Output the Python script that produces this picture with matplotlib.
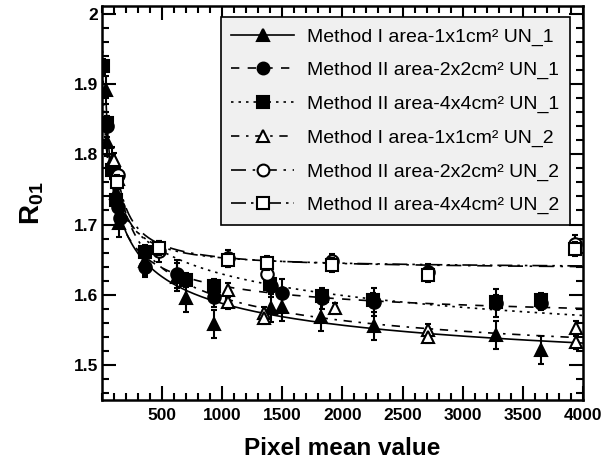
import numpy as np
import matplotlib
matplotlib.use('Agg')
import matplotlib.pyplot as plt
from matplotlib.ticker import MultipleLocator, FuncFormatter

plt.rcParams['font.family'] = ['Liberation Sans', 'DejaVu Sans']
plt.rcParams['mathtext.fontset'] = 'custom'
plt.rcParams['mathtext.rm'] = 'Liberation Sans:bold'
plt.rcParams['mathtext.it'] = 'Liberation Sans:bold'
plt.rcParams['mathtext.bf'] = 'Liberation Sans:bold'
plt.rcParams['mathtext.default'] = 'bf'

# Method I, 1x1 cm^2, UN_1
x1 = [30, 45, 85, 115, 140, 360, 620, 700, 930, 1410, 1495, 1825, 2260, 3275, 3650]
y1 = [1.892, 1.818, 1.790, 1.745, 1.702, 1.648, 1.625, 1.595, 1.559, 1.581, 1.583, 1.569, 1.555, 1.543, 1.521]
e1 = [0.02, 0.02, 0.02, 0.02, 0.02, 0.02, 0.02, 0.02, 0.02, 0.02, 0.02, 0.02, 0.02, 0.02, 0.02]

# Method II, 2x2 cm^2, UN_1
x2 = [40, 80, 130, 150, 355, 620, 930, 1410, 1495, 1830, 2260, 3275, 3650]
y2 = [1.840, 1.780, 1.725, 1.710, 1.640, 1.630, 1.597, 1.612, 1.602, 1.595, 1.590, 1.588, 1.588]
e2 = [0.015, 0.015, 0.015, 0.015, 0.015, 0.02, 0.015, 0.015, 0.02, 0.015, 0.02, 0.02, 0.01]

# Method II, 4x4 cm^2, UN_1
x3 = [5, 45, 80, 115, 355, 700, 930, 1400, 1830, 2255, 3275, 3650]
y3 = [1.925, 1.844, 1.778, 1.735, 1.661, 1.621, 1.612, 1.615, 1.598, 1.593, 1.590, 1.592]
e3 = [0.01, 0.01, 0.01, 0.01, 0.01, 0.01, 0.01, 0.01, 0.01, 0.01, 0.01, 0.01]

# Method I, 1x1 cm^2, UN_2
x4 = [100, 130, 1050, 1050, 1345, 1345, 1935, 2715, 2715, 3940, 3940]
y4 = [1.792, 1.765, 1.607, 1.590, 1.574, 1.567, 1.581, 1.550, 1.540, 1.552, 1.533]
e4 = [0.01, 0.01, 0.01, 0.01, 0.008, 0.008, 0.008, 0.008, 0.008, 0.01, 0.01]

# Method II, 2x2 cm^2, UN_2
x5 = [135, 475, 1045, 1370, 1910, 2715, 3935]
y5 = [1.770, 1.662, 1.652, 1.630, 1.648, 1.632, 1.673]
e5 = [0.01, 0.015, 0.012, 0.01, 0.01, 0.012, 0.012]

# Method II, 4x4 cm^2, UN_2
x6 = [125, 475, 1045, 1370, 1910, 2715, 3935]
y6 = [1.761, 1.667, 1.650, 1.645, 1.643, 1.628, 1.665]
e6 = [0.01, 0.01, 0.01, 0.01, 0.01, 0.01, 0.01]

labels = ['Method I area-1x1cm\u00b2 UN_1',
          'Method II area-2x2cm\u00b2 UN_1',
          'Method II area-4x4cm\u00b2 UN_1',
          'Method I area-1x1cm\u00b2 UN_2',
          'Method II area-2x2cm\u00b2 UN_2',
          'Method II area-4x4cm\u00b2 UN_2']

series = [(x1, y1, e1), (x2, y2, e2), (x3, y3, e3), (x4, y4, e4), (x5, y5, e5), (x6, y6, e6)]
markers = ['^', 'o', 's', '^', 'o', 's']
filled = [True, True, True, False, False, False]
styles = ['-', (0, (5, 5)), (0, (1.5, 3)), (0, (5, 4, 1.5, 4)), (0, (9, 4, 1.5, 4)), (0, (9, 3, 1.5, 3, 1.5, 3))]


def fit_curve(x, y, xf):
    # y = a + b * x^c, scan c and solve a, b by least squares
    best = None
    for c in np.linspace(-1.0, -0.1, 91):
        A = np.column_stack([np.ones_like(x), x ** c])
        coef = np.linalg.lstsq(A, y, rcond=None)[0]
        r = np.sum((A @ coef - y) ** 2)
        if best is None or r < best[0]:
            best = (r, coef, c)
    _, (a, b), c = best
    return a + b * xf ** c


fig = plt.figure(figsize=(6.09, 4.68), dpi=100)
ax = fig.add_axes([0.1675, 0.145, 0.7895, 0.842])

handles = []
for (x, y, e), m, f, ls, lab in zip(series, markers, filled, styles, labels):
    x = np.array(x, float)
    y = np.array(y, float)
    xf = np.linspace(x.min(), 4000, 400)
    ax.plot(xf, fit_curve(x, y, xf), color='black', lw=1.2, ls=ls)
    ax.errorbar(x, y, yerr=e, fmt='none', ecolor='black', elinewidth=1.5, capsize=2.5, capthick=1.5)
    ax.plot(x, y, ls='none', marker=m, ms=8.5 if m == '^' else 9,
            mfc='black' if f else 'white', mec='black', mew=1.5)
    h, = ax.plot([], [], color='black', lw=1.2, ls=ls, marker=m, ms=8.5,
                 mfc='black' if f else 'white', mec='black', mew=1.5)
    handles.append(h)

ax.set_xlim(0, 3990)
ax.set_ylim(1.45, 2.011)
ax.set_xticks([500, 1000, 1500, 2000, 2500, 3000, 3500, 4000])
ax.xaxis.set_minor_locator(MultipleLocator(100))
ax.yaxis.set_major_locator(MultipleLocator(0.1))
ax.yaxis.set_minor_locator(MultipleLocator(0.02))
ax.yaxis.set_major_formatter(FuncFormatter(lambda v, p: '%g' % round(v, 2)))
ax.tick_params(which='both', direction='in', top=True, right=True, width=1.5)
ax.tick_params(which='major', length=10, labelsize=12.5)
ax.tick_params(axis='x', which='major', pad=6)
ax.tick_params(axis='y', which='major', pad=3)
ax.tick_params(which='minor', length=5)
for lab in ax.get_xticklabels() + ax.get_yticklabels():
    lab.set_fontweight('bold')
for s in ax.spines.values():
    s.set_linewidth(1.8)

ax.set_xlabel('Pixel mean value', fontsize=17.5, fontweight='bold', labelpad=10)
ax.set_ylabel(r'$R_{01}$', fontsize=20, labelpad=20)

leg = ax.legend(handles, labels, loc='upper left', bbox_to_anchor=(0.247, 0.972),
                fontsize=14, frameon=True, fancybox=False, framealpha=1,
                facecolor='#f0f0f0', edgecolor='black', handlelength=3.2,
                labelspacing=0.82, borderpad=0.55, handletextpad=0.7, borderaxespad=0)
leg.get_frame().set_linewidth(1.2)

fig.savefig('out.png', dpi=100)
